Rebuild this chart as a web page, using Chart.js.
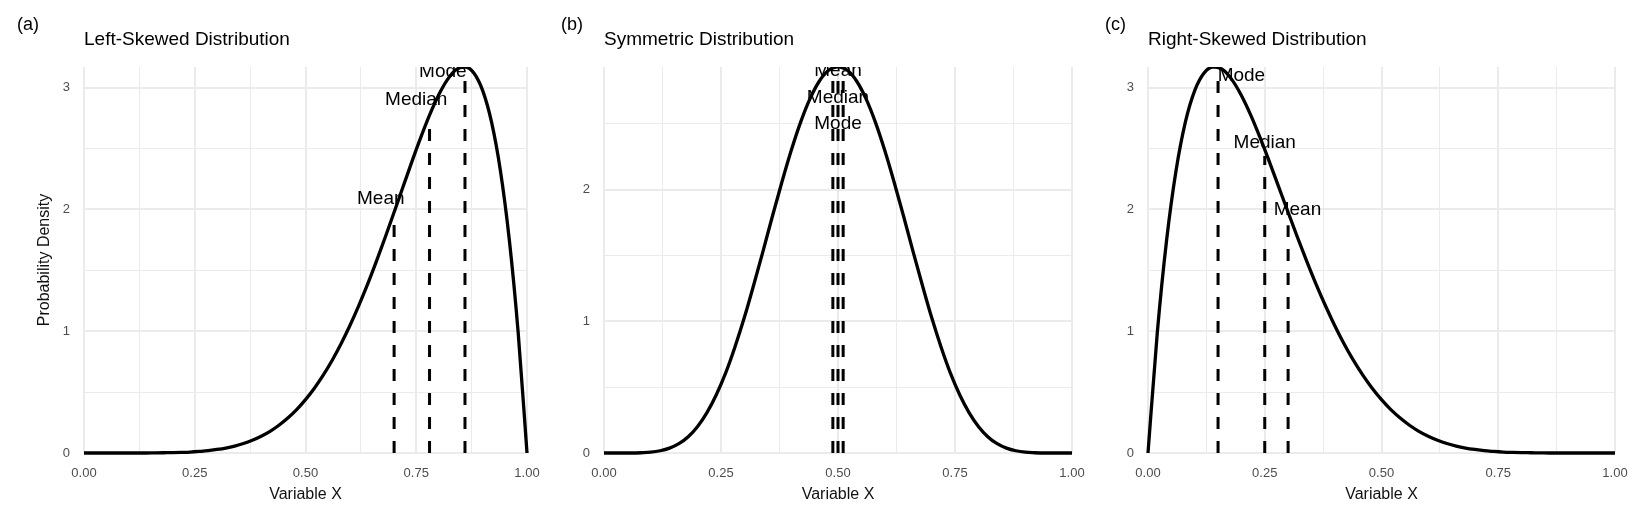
<!DOCTYPE html>
<html>
<head>
<meta charset="utf-8">
<script src="https://cdn.jsdelivr.net/npm/chart.js@4.4.1/dist/chart.umd.min.js"></script>
<style>
  body { margin: 0; background: #fff; }
  #wrap { position: relative; width: 1632px; height: 518px; }
  canvas { position: absolute; top: 0; }
</style>
</head>
<body>
<div id="wrap">
  <canvas id="left" width="544" height="518" style="left:0px"></canvas>
  <canvas id="sym" width="544" height="518" style="left:544px"></canvas>
  <canvas id="right" width="544" height="518" style="left:1088px"></canvas>
</div>
<script>
// x positions of the density curves
const xs = [0.00, 0.02, 0.04, 0.06, 0.08, 0.10, 0.12, 0.14, 0.16, 0.18,
  0.20, 0.22, 0.24, 0.26, 0.28, 0.30, 0.32, 0.34, 0.36, 0.38,
  0.40, 0.42, 0.44, 0.46, 0.48, 0.50, 0.52, 0.54, 0.56, 0.58,
  0.60, 0.62, 0.64, 0.66, 0.68, 0.70, 0.72, 0.74, 0.76, 0.78,
  0.80, 0.82, 0.84, 0.86, 0.88, 0.90, 0.92, 0.94, 0.96, 0.98, 1.00];

// density values
const leftDensity = [0, 0, 0, 0, 0, 0, 0, 0, 0.001, 0.002,
  0.003, 0.005, 0.008, 0.013, 0.019, 0.029, 0.041, 0.057, 0.078, 0.105,
  0.138, 0.178, 0.228, 0.287, 0.356, 0.438, 0.532, 0.639, 0.760, 0.895,
  1.045, 1.209, 1.385, 1.574, 1.772, 1.977, 2.184, 2.391, 2.590, 2.775,
  2.936, 3.064, 3.148, 3.172, 3.121, 2.976, 2.717, 2.318, 1.753, 0.992, 0];
const symDensity = [0, 0, 0, 0, 0.002, 0.006, 0.017, 0.037, 0.071, 0.124,
  0.202, 0.307, 0.442, 0.608, 0.807, 1.030, 1.277, 1.534, 1.799, 2.055,
  2.296, 2.510, 2.688, 2.822, 2.905, 2.933, 2.905, 2.822, 2.688, 2.510,
  2.296, 2.055, 1.799, 1.534, 1.277, 1.030, 0.807, 0.608, 0.442, 0.307,
  0.202, 0.124, 0.071, 0.037, 0.017, 0.006, 0.002, 0, 0, 0, 0];
const rightDensity = [0, 0.992, 1.753, 2.318, 2.717, 2.976, 3.121, 3.172, 3.148, 3.064,
  2.936, 2.775, 2.590, 2.391, 2.184, 1.977, 1.772, 1.574, 1.385, 1.209,
  1.045, 0.895, 0.760, 0.639, 0.532, 0.438, 0.356, 0.287, 0.228, 0.178,
  0.138, 0.105, 0.078, 0.057, 0.041, 0.029, 0.019, 0.013, 0.008, 0.005,
  0.003, 0.002, 0.001, 0, 0, 0, 0, 0, 0, 0, 0];

// mean / median / mode marks: line x, line top, label text and label spot
const leftNames = ["Mean", "Median", "Mode"];
const leftMarkX = [0.70, 0.78, 0.86];
const leftMarkTop = [1.88, 2.67, 3.07];
const leftLabelX = [0.67, 0.75, 0.81];
const leftLabelY = [2.09, 2.90, 3.13];

const symNames = ["Mean", "Median", "Mode"];
const symMarkX = [0.489, 0.500, 0.511];
const symMarkTop = [2.83, 2.83, 2.83];
const symLabelX = [0.50, 0.50, 0.50];
const symLabelY = [2.90, 2.70, 2.50];

const rightNames = ["Mode", "Median", "Mean"];
const rightMarkX = [0.15, 0.25, 0.30];
const rightMarkTop = [3.07, 2.44, 1.87];
const rightLabelX = [0.20, 0.25, 0.32];
const rightLabelY = [3.10, 2.55, 2.00];

const FONT = "'Liberation Sans', Arial, Helvetica, sans-serif";
Chart.defaults.font.family = FONT;

// tag, title, axis titles and the mark labels
const panelText = {
  id: "panelText",
  afterDatasetsDraw(chart, args, opts) {
    const { ctx, chartArea, scales } = chart;
    ctx.save();
    ctx.fillStyle = "#000";
    ctx.textBaseline = "middle";

    // labels are clipped to the panel like the original
    ctx.save();
    ctx.beginPath();
    ctx.rect(chartArea.left, chartArea.top, chartArea.right - chartArea.left, chartArea.bottom - chartArea.top);
    ctx.clip();
    ctx.font = "19px " + FONT;
    ctx.textAlign = "center";
    opts.names.forEach((name, i) => {
      ctx.fillText(name, scales.x.getPixelForValue(opts.labelX[i]), scales.y.getPixelForValue(opts.labelY[i]));
    });
    ctx.restore();

    ctx.textAlign = "left";
    ctx.font = "18px " + FONT;
    ctx.fillText(opts.tag, 17, 25);
    ctx.font = "19px " + FONT;
    ctx.fillText(opts.title, chartArea.left, 40);

    ctx.fillStyle = "#111";
    ctx.font = "16px " + FONT;
    ctx.textAlign = "center";
    ctx.fillText("Variable X", (chartArea.left + chartArea.right) / 2, 495);
    if (opts.yTitle) {
      ctx.translate(45, (chartArea.top + chartArea.bottom) / 2);
      ctx.rotate(-Math.PI / 2);
      ctx.fillText(opts.yTitle, 0, 0);
    }
    ctx.restore();
  },
};

let makePanel = (id, density, names, markX, markTop, labelX, labelY, info) => {
  const datasets = [
    {
      data: xs.map((x, i) => ({ x: x, y: density[i] })),
      borderColor: "#000",
      borderWidth: 3.3,
      pointRadius: 0,
      cubicInterpolationMode: "monotone",
      clip: { left: 2, top: 0, right: 2, bottom: 3 },
    },
  ];
  markX.forEach((mx, i) => {
    datasets.push({
      data: [{ x: mx, y: 0 }, { x: mx, y: markTop[i] }],
      borderColor: "#000",
      borderWidth: 3,
      borderDash: [12, 12],
      borderCapStyle: "butt",
      pointRadius: 0,
    });
  });

  new Chart(document.getElementById(id), {
    type: "line",
    data: { datasets: datasets },
    plugins: [panelText],
    options: {
      responsive: false,
      animation: false,
      layout: { padding: { top: 67, right: info.padRight, left: 0, bottom: 0 } },
      plugins: {
        legend: { display: false },
        tooltip: { enabled: false },
        panelText: {
          tag: info.tag,
          title: info.title,
          yTitle: info.yTitle,
          names: names,
          labelX: labelX,
          labelY: labelY,
        },
      },
      scales: {
        x: {
          type: "linear",
          min: 0,
          max: 1,
          border: { display: false },
          grid: {
            color: "#ebebeb",
            drawTicks: false,
            lineWidth: (c) => (Number.isInteger(Math.round(c.tick.value * 1000) / 250) ? 2 : 1),
          },
          ticks: {
            stepSize: 0.125,
            autoSkip: false,
            maxRotation: 0,
            padding: 13,
            color: "#4d4d4d",
            font: { size: 13 },
            callback: (v) => (Number.isInteger(Math.round(v * 1000) / 250) ? v.toFixed(2) : ""),
          },
          // the end labels may hang over the panel edge
          afterFit: (axis) => {
            axis.height = 65;
            axis.paddingLeft = 0;
            axis.paddingRight = 0;
          },
        },
        y: {
          type: "linear",
          min: 0,
          max: info.yMax,
          border: { display: false },
          grid: {
            color: "#ebebeb",
            drawTicks: false,
            lineWidth: (c) => (Number.isInteger(c.tick.value) ? 2 : 1),
          },
          ticks: {
            stepSize: 0.5,
            includeBounds: false,
            autoSkip: false,
            padding: 14,
            color: "#4d4d4d",
            font: { size: 13 },
            callback: (v) => (Number.isInteger(v) ? String(v) : ""),
          },
          afterFit: (axis) => {
            axis.width = info.axisWidth;
            axis.paddingTop = 0;
            axis.paddingBottom = 0;
          },
        },
      },
    },
  });
};

makePanel("left", leftDensity, leftNames, leftMarkX, leftMarkTop, leftLabelX, leftLabelY, {
  tag: "(a)", title: "Left-Skewed Distribution", yTitle: "Probability Density",
  yMax: 3.17, axisWidth: 84, padRight: 17,
});
makePanel("sym", symDensity, symNames, symMarkX, symMarkTop, symLabelX, symLabelY, {
  tag: "(b)", title: "Symmetric Distribution", yTitle: "",
  yMax: 2.93, axisWidth: 60, padRight: 16,
});
makePanel("right", rightDensity, rightNames, rightMarkX, rightMarkTop, rightLabelX, rightLabelY, {
  tag: "(c)", title: "Right-Skewed Distribution", yTitle: "",
  yMax: 3.17, axisWidth: 60, padRight: 17,
});
</script>
</body>
</html>
